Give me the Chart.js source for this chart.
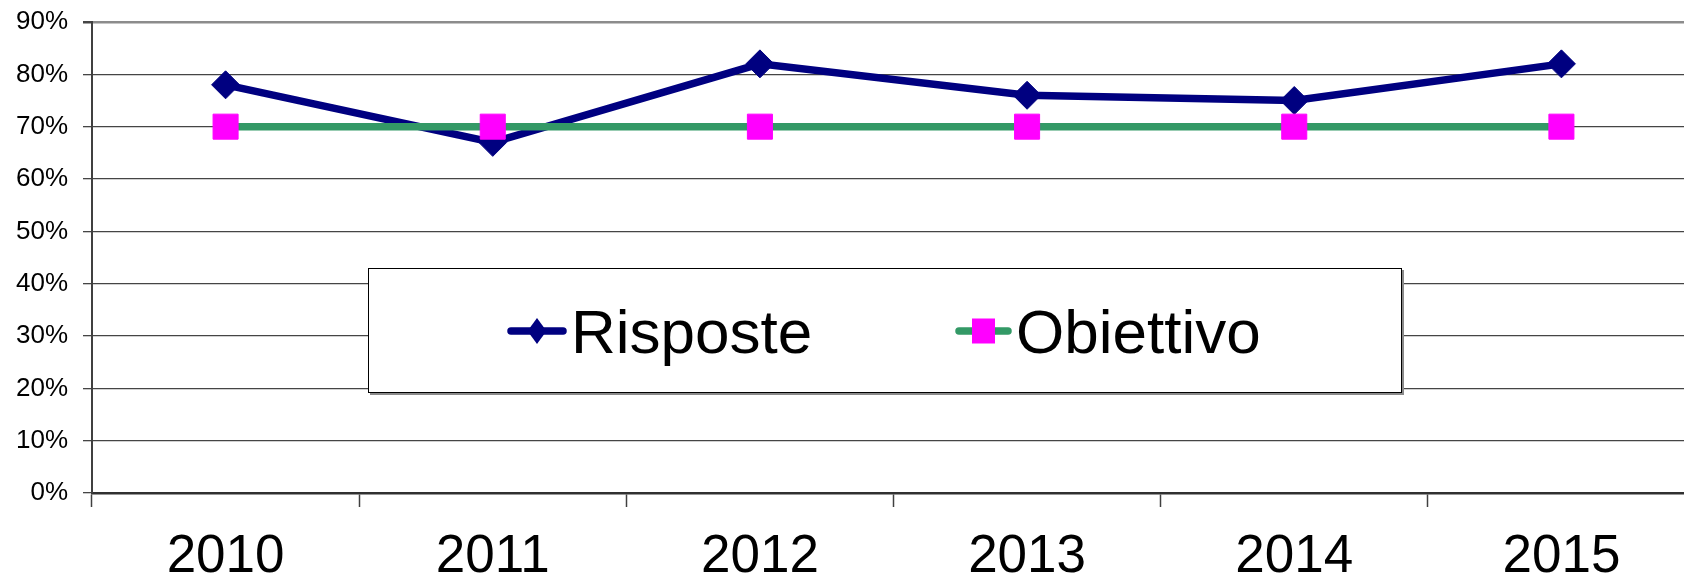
<!DOCTYPE html>
<html>
<head>
<meta charset="utf-8">
<script src="https://cdn.jsdelivr.net/npm/chart.js@4.4.1/dist/chart.umd.min.js"></script>
<style>
  html, body { margin: 0; padding: 0; background: #fff; overflow: hidden; width: 1684px; height: 579px; }
  #wrap { width: 1700px; height: 579px; position: relative; }
  canvas { display: block; }
</style>
</head>
<body>
<div id="wrap"><canvas id="c" width="1700" height="579" style="width:1700px;height:579px"></canvas></div>
<script>
const categories = ['2010', '2011', '2012', '2013', '2014', '2015'];
const risposte = [78, 67, 82, 76, 75, 82];
const obiettivo = [70, 70, 70, 70, 70, 70];
const seriesNames = ['Risposte', 'Obiettivo'];
const yTicks = [0, 10, 20, 30, 40, 50, 60, 70, 80, 90];

const FONT = '"Liberation Sans", Arial, sans-serif';

const boxLegend = {
  id: 'boxLegend',
  afterDraw(chart) {
    const ctx = chart.ctx;
    const bx = 368, by = 268, bw = 1034, bh = 125;
    ctx.save();
    ctx.fillStyle = '#8a8a8a';
    ctx.fillRect(bx + 2, by + 2, bw, bh);
    ctx.fillStyle = '#ffffff';
    ctx.fillRect(bx, by, bw, bh);
    ctx.strokeStyle = '#000';
    ctx.lineWidth = 1;
    ctx.strokeRect(bx + 0.5, by + 0.5, bw - 1, bh - 1);

    const items = [
      { x0: 508, x1: 566, tx: 571 },
      { x0: 956, x1: 1011, tx: 1016 }
    ];
    const ly = 331;
    chart.data.datasets.forEach((ds, i) => {
      const it = items[i];
      ctx.strokeStyle = ds.borderColor;
      ctx.lineWidth = 7.5;
      ctx.lineCap = 'round';
      ctx.beginPath();
      ctx.moveTo(it.x0 + 3, ly);
      ctx.lineTo(it.x1 - 3, ly);
      ctx.stroke();
      const cx = (it.x0 + it.x1) / 2;
      ctx.fillStyle = ds.pointBackgroundColor;
      if (ds.pointStyle === 'rectRot') {
        ctx.beginPath();
        ctx.moveTo(cx, ly - 13);
        ctx.lineTo(cx + 9.5, ly);
        ctx.lineTo(cx, ly + 13);
        ctx.lineTo(cx - 9.5, ly);
        ctx.closePath();
        ctx.fill();
      } else {
        ctx.fillRect(cx - 11.5, ly - 12.5, 23, 25);
      }
      ctx.fillStyle = '#000';
      ctx.font = '62px ' + FONT;
      ctx.textBaseline = 'alphabetic';
      ctx.textAlign = 'left';
      ctx.fillText(ds.label, it.tx, 353);
    });
    ctx.restore();
  }
};

new Chart(document.getElementById('c'), {
  type: 'line',
  data: {
    labels: categories,
    datasets: [
      {
        label: seriesNames[0],
        data: risposte,
        borderColor: '#000080',
        backgroundColor: '#000080',
        pointBackgroundColor: '#000080',
        pointBorderColor: '#000080',
        borderWidth: 7.5,
        pointStyle: 'rectRot',
        pointRadius: 14,
        pointBorderWidth: 1,
        tension: 0,
        order: 1
      },
      {
        label: seriesNames[1],
        data: obiettivo,
        borderColor: '#339966',
        backgroundColor: '#FF00FF',
        pointBackgroundColor: '#FF00FF',
        pointBorderColor: '#FF00FF',
        borderWidth: 7.5,
        pointStyle: 'rect',
        pointRadius: 17.7,
        pointBorderWidth: 1,
        tension: 0,
        order: 0
      }
    ]
  },
  options: {
    responsive: false,
    animation: false,
    events: [],
    devicePixelRatio: 1,
    layout: { autoPadding: false, padding: { left: 0, right: 5, top: 22, bottom: 0 } },
    plugins: {
      legend: { display: false },
      tooltip: { enabled: false },
      title: { display: false }
    },
    scales: {
      x: {
        type: 'category',
        offset: true,
        grid: {
          offset: true,
          drawOnChartArea: false,
          drawTicks: true,
          tickLength: 14,
          tickWidth: 1.5,
          tickColor: '#404040'
        },
        border: { display: true, color: '#303030', width: 2.5 },
        ticks: {
          color: '#000',
          font: { family: FONT, size: 53 },
          padding: 19,
          maxRotation: 0,
          autoSkip: false
        },
        afterFit(scale) {
          scale.height = 86;
          scale.paddingLeft = 0;
          scale.paddingRight = 0;
        }
      },
      y: {
        min: 0,
        max: 90,
        afterBuildTicks(scale) { scale.ticks = yTicks.map(v => ({ value: v })); },
        grid: {
          color: (c) => c.tick && c.tick.value === 90 ? '#8c8c8c' : '#454545',
          lineWidth: (c) => c.tick && c.tick.value === 90 ? 2.5 : 1.3,
          tickColor: '#454545',
          tickLength: 9,
          drawTicks: true
        },
        border: { display: true, color: '#404040', width: 2 },
        ticks: {
          color: '#000',
          font: { family: FONT, size: 26, lineHeight: 0.4 },
          padding: 15,
          callback: (v) => v + '%'
        },
        afterFit(scale) { scale.width = 92; }
      }
    }
  },
  plugins: [boxLegend]
});
</script>
</body>
</html>
